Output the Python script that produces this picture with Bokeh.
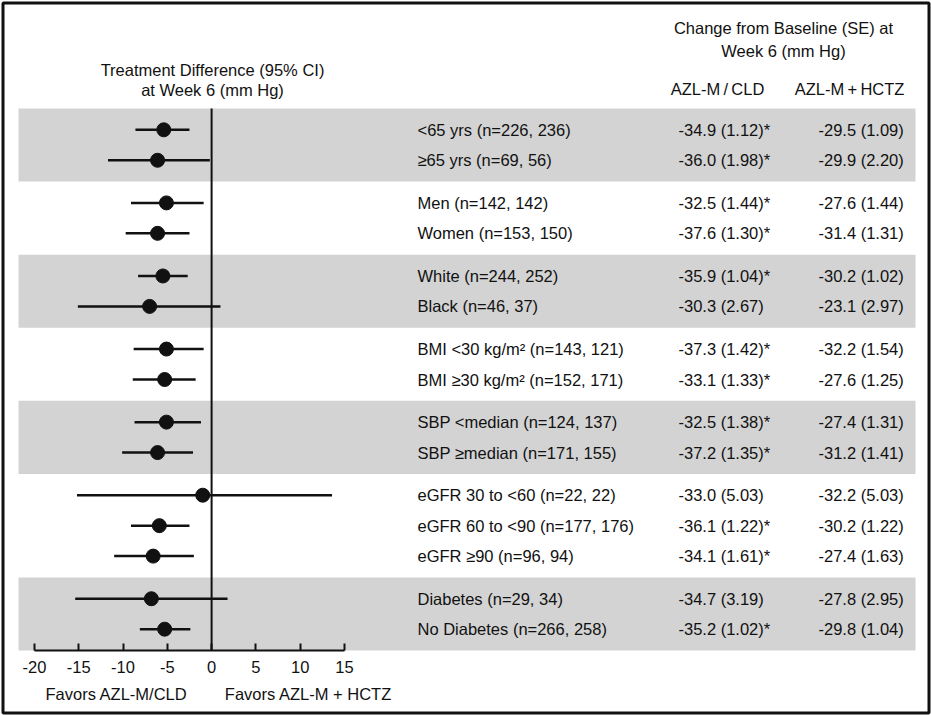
from bokeh.plotting import figure
from bokeh.models import Range1d, LinearAxis, FixedTicker, PrintfTickFormatter, ColumnDataSource
from bokeh.core.properties import value
from bokeh.embed import file_html
from bokeh.resources import INLINE

# ---------------- data ----------------
labels = ["<65 yrs (n=226, 236)", "\u226565 yrs (n=69, 56)",
          "Men (n=142, 142)", "Women (n=153, 150)",
          "White (n=244, 252)", "Black (n=46, 37)",
          "BMI <30 kg/m\u00b2 (n=143, 121)", "BMI \u226530 kg/m\u00b2 (n=152, 171)",
          "SBP <median (n=124, 137)", "SBP \u2265median (n=171, 155)",
          "eGFR 30 to <60 (n=22, 22)", "eGFR 60 to <90 (n=177, 176)", "eGFR \u226590 (n=96, 94)",
          "Diabetes (n=29, 34)", "No Diabetes (n=266, 258)"]
group_sizes = [2, 2, 2, 2, 2, 3, 2]
group_shaded = [True, False, True, False, True, False, True]
estimate = [-5.4, -6.1, -5.1, -6.1, -5.5, -7.0, -5.1, -5.3, -5.1, -6.1, -1.0, -5.9, -6.6, -6.8, -5.3]
ci_low = [-8.6, -11.7, -9.1, -9.7, -8.3, -15.1, -8.8, -8.9, -8.7, -10.1, -15.2, -9.1, -11.0, -15.4, -8.1]
ci_high = [-2.5, -0.2, -0.9, -2.5, -2.7, 1.0, -0.9, -1.8, -1.2, -2.1, 13.6, -2.5, -2.0, 1.8, -2.4]
azl_cld = ["-34.9 (1.12)*", "-36.0 (1.98)*", "-32.5 (1.44)*", "-37.6 (1.30)*", "-35.9 (1.04)*",
           "-30.3 (2.67)", "-37.3 (1.42)*", "-33.1 (1.33)*", "-32.5 (1.38)*", "-37.2 (1.35)*",
           "-33.0 (5.03)", "-36.1 (1.22)*", "-34.1 (1.61)*", "-34.7 (3.19)", "-35.2 (1.02)*"]
azl_hctz = ["-29.5 (1.09)", "-29.9 (2.20)", "-27.6 (1.44)", "-31.4 (1.31)", "-30.2 (1.02)",
            "-23.1 (2.97)", "-32.2 (1.54)", "-27.6 (1.25)", "-27.4 (1.31)", "-31.2 (1.41)",
            "-32.2 (5.03)", "-30.2 (1.22)", "-27.4 (1.63)", "-27.8 (2.95)", "-29.8 (1.04)"]
x_ticks = [-20, -15, -10, -5, 0, 5, 10, 15]
left_header = ["Treatment Difference (95% CI)", "at Week 6 (mm Hg)"]
right_header = ["Change from Baseline (SE) at", "Week 6 (mm Hg)"]
column_names = ["AZL-M\u2009/\u2009CLD", "AZL-M\u2009+\u2009HCTZ"]
favors = ["Favors AZL-M/CLD", "Favors AZL-M + HCTZ"]

# ---------------- layout (row units) ----------------
PAD = 0.4
row_y, band_top, band_bot = [], [], []
top = 0.0
for n, shaded in zip(group_sizes, group_shaded):
    for i in range(n):
        row_y.append(top + 0.7 + i)
    if shaded:
        band_top.append(top)
        band_bot.append(top + n + PAD)
    top += n + PAD
y_end = top

W, H = 931, 715
PANEL_TOP, PANEL_BOT = 108.0, 650.0          # pixel rows of table area
U = (PANEL_BOT - PANEL_TOP) / y_end           # px per row unit
X0, XS = 211.1, 8.857                         # pixel of zero, px per mm Hg

FONT = "Liberation Sans"
FS = "16.5px"
INK = "#111111"

p = figure(width=W, height=H, output_backend="svg", toolbar_location=None,
           x_range=Range1d(-X0 / XS, (W - X0) / XS),
           y_range=Range1d((H - PANEL_TOP) / U, -PANEL_TOP / U),
           y_axis_location=None, x_axis_location=None,
           min_border_left=0, min_border_right=0, min_border_top=0, min_border_bottom=0)
p.extra_x_ranges = {"px": Range1d(0, W)}
p.extra_y_ranges = {"py": Range1d(H, 0)}
p.xgrid.visible = False
p.ygrid.visible = False
p.outline_line_color = None
p.background_fill_color = "white"
p.border_fill_color = "white"

# shaded bands
p.quad(left=18, right=915, top=band_top, bottom=band_bot, x_range_name="px",
       fill_color="#d3d3d3", line_color=None)

# zero line
p.segment(x0=[0], x1=[0], y0=[0], y1=[y_end], line_color=INK, line_width=2)

# CI lines and points
src = ColumnDataSource(dict(y=row_y, est=estimate, lo=ci_low, hi=ci_high,
                            lab=labels, c1=azl_cld, c2=azl_hctz))
p.segment(x0="lo", x1="hi", y0="y", y1="y", source=src, line_color=INK, line_width=2.5)
p.scatter(x="est", y="y", source=src, size=14, fill_color=INK, line_color=INK)

# x axis fixed at the bottom of the table area
xa = LinearAxis(ticker=FixedTicker(ticks=x_ticks), bounds=(-20, 15),
                fixed_location=y_end, formatter=PrintfTickFormatter(format="%d"))
xa.axis_line_width = 2
xa.axis_line_color = INK
xa.major_tick_line_width = 2
xa.major_tick_line_color = INK
xa.major_tick_in = 7
xa.major_tick_out = 0
xa.minor_tick_line_color = None
xa.major_label_standoff = 10
xa.major_label_text_font = FONT
xa.major_label_text_font_size = FS
xa.major_label_text_color = INK
p.add_layout(xa, "below")

# table text
common = dict(source=src, y="y", x_range_name="px", text_font=value(FONT),
              text_font_size=value(FS), text_color=INK, text_baseline="middle")
p.text(x=417, text="lab", text_align="left", **common)
p.text(x=678, text="c1", text_align="left", **common)
p.text(x=818, text="c2", text_align="left", **common)

# headers and footer texts
hdr = dict(x_range_name="px", y_range_name="py", text_font=value(FONT),
           text_font_size=value(FS), text_color=INK, text_baseline="middle", text_align="center")
p.text(x=[212, 212], y=[69, 89], text=left_header, **hdr)
p.text(x=[783, 783], y=[27, 50], text=right_header, **hdr)
p.text(x=[717, 849], y=[88, 88], text=column_names, **hdr)
p.text(x=[116, 308], y=[693, 693], text=favors, **hdr)

# frame border around the whole figure
p.quad(left=[2.5], right=[928.5], top=[2.5], bottom=[712.5], x_range_name="px", y_range_name="py",
       fill_color=None, line_color=INK, line_width=3)

open("out.html", "w").write(file_html(p, INLINE))
